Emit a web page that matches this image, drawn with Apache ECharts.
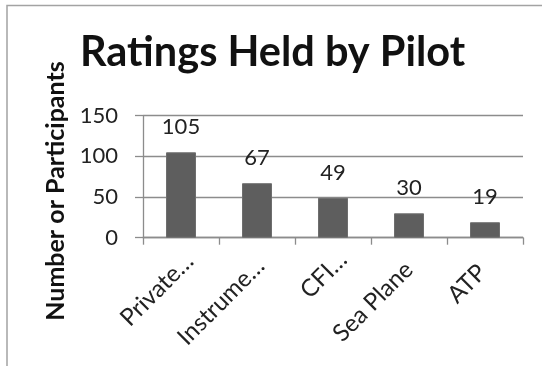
<!DOCTYPE html>
<html>
<head>
<meta charset="utf-8">
<script src="https://cdn.jsdelivr.net/npm/echarts@6/dist/echarts.min.js"></script>
<style>
  html, body { margin: 0; padding: 0; background: #fff; }
  #chart { width: 542px; height: 366px; }
</style>
</head>
<body>
<div id="chart"></div>
<script>
// Pilot ratings: category labels as shown on the axis, and participant counts
const ratings = ['Private…', 'Instrume…', 'CFI…', 'Sea Plane', 'ATP'];
const participants = [105, 67, 49, 30, 19];
const yTicks = { min: 0, max: 150, step: 50 };

// per-label nudge along the slanted text direction (px, positive = further up-right)
const labelNudge = [12, 5, 14, 0, -4];

const FONT = 'Lato';
const chart = echarts.init(document.getElementById('chart'), null, { renderer: 'canvas' });

const categoryItems = ratings.map((name, i) => ({
  value: name,
  textStyle: { padding: [0, -labelNudge[i], 0, 0] }
}));

chart.setOption({
  animation: false,
  backgroundColor: '#fff',
  title: {
    text: 'Ratings Held by Pilot',
    left: 75,
    top: 27,
    textStyle: { fontFamily: FONT, fontWeight: 'bold', fontSize: 41.5, color: '#111' }
  },
  graphic: [
    {
      // chart frame (left and top edges visible)
      type: 'rect',
      shape: { x: 7, y: 5.5, width: 700, height: 700 },
      style: { fill: 'none', stroke: '#a3a3a3', lineWidth: 1.5 },
      silent: true
    },
    {
      type: 'text',
      x: 56,
      y: 191,
      rotation: Math.PI / 2,
      style: {
        text: 'Number or Participants',
        fontFamily: FONT,
        fontWeight: 'bold',
        fontSize: 25,
        fill: '#111',
        textAlign: 'center',
        textVerticalAlign: 'middle'
      }
    }
  ],
  grid: { left: 143, right: 19, top: 115.7, bottom: 128.3, containLabel: false },
  xAxis: {
    type: 'category',
    data: categoryItems,
    axisLine: { lineStyle: { color: '#8c8c8c', width: 1.3 } },
    axisTick: { show: true, length: 7, alignWithLabel: false, lineStyle: { color: '#8c8c8c', width: 1.3 } },
    axisLabel: {
      rotate: 45,
      interval: 0,
      margin: 28,
      fontFamily: FONT,
      fontSize: 24,
      color: '#222'
    }
  },
  yAxis: {
    type: 'value',
    min: yTicks.min,
    max: yTicks.max,
    interval: yTicks.step,
    axisLine: { show: true, lineStyle: { color: '#8c8c8c', width: 1.3 } },
    axisTick: { show: true, length: 8, lineStyle: { color: '#8c8c8c', width: 1.3 } },
    splitLine: { lineStyle: { color: '#8c8c8c', width: 1.3 } },
    axisLabel: {
      margin: 25,
      fontFamily: FONT,
      fontSize: 22,
      color: '#222'
    }
  },
  series: [{
    type: 'bar',
    data: participants,
    barWidth: 30,
    itemStyle: { color: '#5e5e5e', borderColor: '#6e6e6e', borderWidth: 1 },
    label: {
      show: true,
      position: 'top',
      distance: 14,
      fontFamily: FONT,
      fontSize: 22,
      color: '#222'
    }
  }]
});
</script>
</body>
</html>
